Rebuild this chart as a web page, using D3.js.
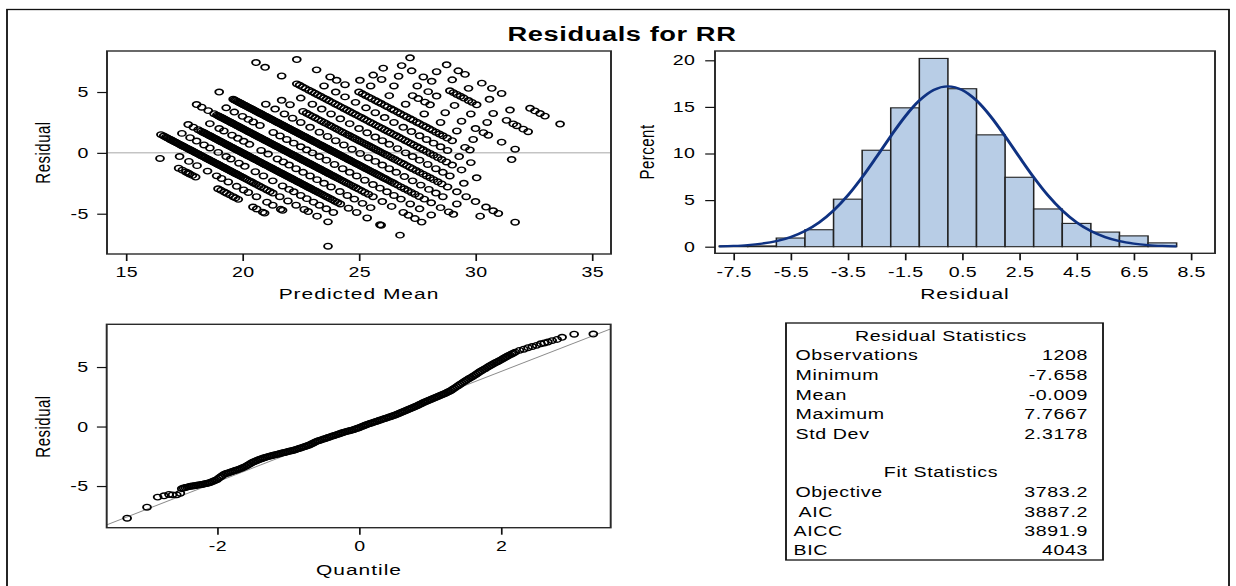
<!DOCTYPE html>
<html>
<head>
<meta charset="utf-8">
<script src="https://cdn.jsdelivr.net/npm/d3@7/dist/d3.min.js"></script>
<style>
html,body{margin:0;padding:0;background:#fff;}
svg{display:block;}
</style>
</head>
<body>
<svg id="chart"></svg>
<script>
// ================= DATA =================
const titleText = "Residuals for RR";

// Residual vs predicted mean: points grouped by observed RR value (residual = observed - predicted)
const pred16 = [16.46,17.26,17.42,17.57,17.66,17.73,17.85,17.99,18.95,19.08,19.22,19.32,19.45,19.6,19.7,19.82,20.45,20.61,20.87,20.95,23.67];
const pred17 = [17.3,17.7,18.05,18.5,18.89,19.1,19.39,19.75,20.05,20.25,20.6,21.05,21.3,21.64,21.72];
const pred18 = [16.5,16.62,16.71,16.77,16.83,16.9,16.94,17.01,17.06,17.12,17.17,17.22,17.28,17.33,17.39,17.43,17.5,17.55,17.61,17.66,17.72,17.77,17.83,17.88,17.93,17.99,18.04,18.1,18.14,18.21,18.26,18.31,18.37,18.42,18.48,18.53,18.58,18.64,18.69,18.75,18.8,18.86,18.91,18.96,19.02,19.07,19.13,19.18,19.23,19.29,19.34,19.4,19.45,19.51,19.56,19.61,19.67,19.72,19.78,19.83,19.89,19.95,20.03,20.12,20.2,20.3,20.38,20.47,20.58,20.7,20.8,20.92,21.05,21.18,21.3,21.6,21.95,22.3,22.65,22.82,23.2,23.67];
const pred19 = [17.4,17.75,18.03,18.35,18.6,18.96,19.3,19.5,19.85,20.1,20.55,20.9,21.3,21.72,22.0,22.2,22.5,22.76,23.05,23.3,23.6,23.9];
const pred20 = [17.67,17.89,18.1,18.22,18.3,18.35,18.41,18.46,18.52,18.57,18.62,18.68,18.73,18.79,18.84,18.89,18.95,19.0,19.06,19.11,19.16,19.22,19.27,19.33,19.38,19.43,19.49,19.54,19.6,19.65,19.7,19.76,19.81,19.87,19.92,19.97,20.03,20.08,20.14,20.19,20.24,20.3,20.35,20.41,20.46,20.51,20.57,20.62,20.68,20.73,20.78,20.84,20.89,20.95,21.0,21.05,21.11,21.16,21.22,21.27,21.32,21.38,21.43,21.49,21.54,21.59,21.65,21.7,21.76,21.81,21.86,21.92,21.97,22.03,22.08,22.13,22.19,22.24,22.3,22.35,22.4,22.46,22.51,22.57,22.62,22.67,22.73,22.78,22.84,22.89,22.95,23.02,23.09,23.16,23.24,23.31,23.39,23.47,23.56,23.65,23.75,23.86,23.97,24.08,24.2,24.55,24.9,25.35,25.9,25.95,26.76];
const pred21 = [18.6,19.0,19.2,19.55,19.8,20.05,20.3,20.8,21.1,21.5,21.75,22.0,22.3,22.6,22.9,23.2,23.5,23.8,24.18,24.5,24.8,25.15,25.5];
const pred22 = [18.03,18.25,18.53,18.78,18.9,18.96,19.01,19.07,19.12,19.18,19.23,19.28,19.34,19.39,19.45,19.5,19.55,19.61,19.66,19.72,19.77,19.82,19.88,19.93,19.99,20.04,20.09,20.15,20.2,20.26,20.31,20.36,20.42,20.47,20.53,20.58,20.63,20.69,20.74,20.8,20.85,20.9,20.96,21.01,21.07,21.12,21.17,21.23,21.28,21.34,21.39,21.44,21.5,21.55,21.61,21.66,21.71,21.77,21.82,21.88,21.93,21.98,22.04,22.09,22.15,22.2,22.25,22.31,22.36,22.42,22.47,22.52,22.58,22.63,22.69,22.74,22.79,22.85,22.9,22.96,23.01,23.06,23.12,23.17,23.23,23.28,23.33,23.39,23.44,23.5,23.55,23.6,23.66,23.71,23.77,23.83,23.9,23.97,24.05,24.12,24.2,24.28,24.36,24.45,24.55,24.65,24.76,24.87,24.98,25.12,25.25,25.4,25.6,26.0,26.4,26.9,27.12,27.4,27.69];
const pred23 = [19.3,19.65,20.0,20.25,20.46,20.75,21.32,21.61,21.9,22.2,22.5,22.75,23.0,23.3,23.6,23.95,24.3,24.6,24.9,25.25,25.6,25.9,26.2,26.5,26.8,27.2,27.6,28.1];
const pred24 = [19.0,19.6,19.66,19.71,19.77,19.82,19.88,19.93,19.98,20.04,20.09,20.15,20.2,20.25,20.31,20.36,20.42,20.47,20.52,20.58,20.63,20.69,20.74,20.79,20.85,20.9,20.96,21.01,21.06,21.12,21.17,21.23,21.28,21.33,21.39,21.44,21.5,21.55,21.6,21.66,21.71,21.77,21.82,21.87,21.93,21.98,22.04,22.09,22.14,22.2,22.25,22.31,22.36,22.41,22.47,22.52,22.58,22.63,22.68,22.74,22.79,22.85,22.9,22.95,23.01,23.06,23.12,23.17,23.22,23.28,23.33,23.39,23.44,23.49,23.55,23.6,23.66,23.71,23.76,23.82,23.87,23.93,23.98,24.03,24.09,24.14,24.2,24.25,24.3,24.36,24.41,24.47,24.52,24.57,24.63,24.68,24.74,24.8,24.87,24.94,25.01,25.08,25.15,25.22,25.3,25.38,25.46,25.54,25.62,25.7,25.78,25.86,25.95,26.04,26.13,26.22,26.32,26.42,26.52,26.65,26.8,26.95,27.1,27.25,27.4,27.58,27.8,28.1,28.5,28.85,29.05];
const pred25 = [21.0,21.4,21.8,22.15,22.5,22.9,23.3,23.65,24.0,24.35,24.7,25.05,25.4,25.7,26.0,26.3,26.6,26.95,27.3,27.65,28.0,28.3,28.6,29.2,30.2];
const pred26 = [21.68,22.04,22.6,22.75,22.88,23.0,23.12,23.25,23.38,23.5,23.6,23.72,23.82,23.95,24.05,24.15,24.28,24.4,24.5,24.6,24.72,24.82,24.92,25.02,25.12,25.22,25.32,25.42,25.52,25.62,25.72,25.82,25.92,26.02,26.12,26.22,26.35,26.45,26.55,26.68,26.8,26.92,27.05,27.18,27.3,27.45,27.6,27.75,27.9,28.05,28.2,28.38,28.55,28.8,29.2,29.6,30.0,30.45,30.76,30.98,31.7];
const pred27 = [22.5,23.0,23.4,23.8,24.2,24.6,25.0,25.35,25.7,26.0,26.3,26.65,27.0,27.3,27.6,27.95,28.3,28.6,28.9,29.5];
const pred28 = [20.58,20.97,21.68,22.33,22.45,22.58,22.7,22.85,22.98,23.1,23.22,23.35,23.48,23.6,23.72,23.85,23.98,24.1,24.22,24.35,24.48,24.6,24.72,24.85,24.98,25.1,25.22,25.35,25.48,25.6,25.72,25.85,25.98,26.1,26.22,26.35,26.48,26.6,26.72,26.85,26.98,27.1,27.22,27.35,27.5,27.62,27.75,27.9,28.05,28.2,28.38,28.55,28.75,29.0,29.4,30.05];
const pred29 = [23.5,24.0,24.4,24.85,25.3,25.7,26.1,26.5,26.9,27.25,27.6,27.9,28.2,28.5,28.8,29.3,29.8];
const pred30 = [22.33,23.18,23.76,24.04,24.4,25.0,25.15,25.28,25.42,25.55,25.7,25.82,25.95,26.1,26.22,26.38,26.5,26.65,26.78,26.92,27.05,27.2,27.32,27.48,27.6,27.75,27.88,28.02,28.15,28.3,28.45,28.6,28.78,29.0,29.55,29.76];
const pred31 = [25.04,25.5,26.3,27.0,27.8,28.5,29.2,29.9,31.55];
const pred32 = [25.61,25.97,26.5,27.3,27.54,27.83,28.05,28.7,29.4,30.0,30.34,30.55,31.12,31.7];
const pred33 = [26.04,26.7,27.5,27.97,28.33,29.1,29.8,30.5];
const pred34 = [26.83,27.26,27.76,28.12,28.9,29.05,29.2,29.35,29.5,29.7,29.85,30.05,30.76,31.33,31.62,31.77,32.05,32.26];
const pred35 = [27.19,28.33,29.0,29.7,30.6,31.48];
const pred36 = [28.76,29.26,29.55,30.27,30.7,31.12,32.34,32.55,32.77,32.98,33.63];
const observedLevels = [16,17,18,19,20,21,22,23,24,25,26,27,28,29,30,31,32,33,34,35,36];
const predByLevel = [pred16,pred17,pred18,pred19,pred20,pred21,pred22,pred23,pred24,pred25,pred26,pred27,pred28,pred29,pred30,pred31,pred32,pred33,pred34,pred35,pred36];

// Histogram of residuals (percent per bin of width 1)
const binMid = [-7.5,-6.5,-5.5,-4.5,-3.5,-2.5,-1.5,-0.5,0.5,1.5,2.5,3.5,4.5,5.5,6.5,7.5];
const binPercent = [0.08,0.08,0.93,1.82,5.1,10.35,14.9,20.2,16.95,12.0,7.45,4.05,2.5,1.57,1.16,0.41];
// Fitted normal density curve (percent)
const curveX = [-8,-7.5,-7,-6.5,-6,-5.5,-5,-4.5,-4,-3.5,-3,-2.5,-2,-1.5,-1,-0.5,0,0.5,1,1.5,2,2.5,3,3.5,4,4.5,5,5.5,6,6.5,7,7.5,8];
const curvePercent = [0.04,0.09,0.18,0.34,0.6,1.03,1.68,2.61,3.88,5.5,7.45,9.62,11.86,13.96,15.68,16.82,17.21,16.82,15.68,13.96,11.86,9.62,7.45,5.5,3.88,2.61,1.68,1.03,0.6,0.34,0.18,0.09,0.04];

// Normal quantile plot points [quantile, residual]
const qqPoints = [
 [-3.27,-7.70],[-2.99,-6.78],[-2.84,-5.93],[-2.75,-5.82],[-2.68,-5.71],[-2.63,-5.74],[-2.57,-5.74],[-2.52,-5.60],
 [-2.500,-5.22],[-2.475,-5.17],[-2.450,-5.13],[-2.425,-5.09],[-2.400,-5.05],[-2.375,-5.02],[-2.350,-5.00],[-2.325,-4.97],
 [-2.300,-4.95],[-2.275,-4.92],[-2.250,-4.90],[-2.225,-4.87],[-2.200,-4.85],[-2.175,-4.81],[-2.150,-4.78],[-2.125,-4.74],
 [-2.100,-4.70],[-2.075,-4.64],[-2.050,-4.58],[-2.025,-4.51],[-2.000,-4.45],[-1.975,-4.33],[-1.950,-4.22],[-1.925,-4.11],
 [-1.900,-4.00],[-1.875,-3.95],[-1.850,-3.90],[-1.825,-3.85],[-1.800,-3.80],[-1.775,-3.75],[-1.750,-3.70],[-1.725,-3.65],
 [-1.700,-3.60],[-1.675,-3.54],[-1.650,-3.48],[-1.625,-3.41],[-1.600,-3.35],[-1.575,-3.26],[-1.550,-3.18],[-1.525,-3.09],
 [-1.500,-3.00],[-1.475,-2.94],[-1.450,-2.88],[-1.425,-2.81],[-1.400,-2.75],[-1.375,-2.70],[-1.350,-2.65],[-1.325,-2.60],
 [-1.300,-2.55],[-1.275,-2.51],[-1.250,-2.48],[-1.225,-2.44],[-1.200,-2.40],[-1.175,-2.36],[-1.150,-2.33],[-1.125,-2.29],
 [-1.100,-2.25],[-1.075,-2.21],[-1.050,-2.18],[-1.025,-2.14],[-1.000,-2.10],[-0.975,-2.06],[-0.950,-2.03],[-0.925,-1.99],
 [-0.900,-1.95],[-0.875,-1.90],[-0.850,-1.85],[-0.825,-1.80],[-0.800,-1.75],[-0.775,-1.70],[-0.750,-1.65],[-0.725,-1.60],
 [-0.700,-1.55],[-0.675,-1.47],[-0.650,-1.40],[-0.625,-1.32],[-0.600,-1.25],[-0.575,-1.20],[-0.550,-1.15],[-0.525,-1.10],
 [-0.500,-1.05],[-0.475,-1.00],[-0.450,-0.95],[-0.425,-0.90],[-0.400,-0.85],[-0.375,-0.80],[-0.350,-0.75],[-0.325,-0.70],
 [-0.300,-0.65],[-0.275,-0.60],[-0.250,-0.55],[-0.225,-0.50],[-0.200,-0.45],[-0.175,-0.41],[-0.150,-0.38],[-0.125,-0.34],
 [-0.100,-0.30],[-0.075,-0.25],[-0.050,-0.20],[-0.025,-0.15],[0.000,-0.10],[0.025,-0.03],[0.050,0.03],[0.075,0.09],
 [0.100,0.15],[0.125,0.20],[0.150,0.25],[0.175,0.30],[0.200,0.35],[0.225,0.40],[0.250,0.45],[0.275,0.50],
 [0.300,0.55],[0.325,0.60],[0.350,0.65],[0.375,0.70],[0.400,0.75],[0.425,0.80],[0.450,0.85],[0.475,0.90],
 [0.500,0.95],[0.525,1.01],[0.550,1.08],[0.575,1.14],[0.600,1.20],[0.625,1.26],[0.650,1.33],[0.675,1.39],
 [0.700,1.45],[0.725,1.51],[0.750,1.58],[0.775,1.64],[0.800,1.70],[0.825,1.77],[0.850,1.85],[0.875,1.92],
 [0.900,2.00],[0.925,2.06],[0.950,2.13],[0.975,2.19],[1.000,2.25],[1.025,2.31],[1.050,2.38],[1.075,2.44],
 [1.100,2.50],[1.125,2.56],[1.150,2.63],[1.175,2.69],[1.200,2.75],[1.225,2.82],[1.250,2.90],[1.275,2.97],
 [1.300,3.05],[1.325,3.15],[1.350,3.25],[1.375,3.35],[1.400,3.45],[1.425,3.55],[1.450,3.65],[1.475,3.75],
 [1.500,3.85],[1.525,3.94],[1.550,4.03],[1.575,4.11],[1.600,4.20],[1.625,4.30],[1.650,4.40],[1.675,4.50],
 [1.700,4.60],[1.725,4.69],[1.750,4.78],[1.775,4.86],[1.800,4.95],[1.825,5.04],[1.850,5.13],[1.875,5.21],
 [1.900,5.30],[1.925,5.38],[1.950,5.45],[1.975,5.53],[2.000,5.60],[2.025,5.69],[2.050,5.78],[2.075,5.86],
 [2.100,5.95],[2.125,6.02],[2.150,6.10],[2.175,6.17],[2.200,6.25],
 [2.26,6.40],[2.32,6.50],[2.38,6.62],[2.44,6.72],[2.50,6.82],[2.56,6.95],[2.61,7.02],[2.66,7.10],[2.72,7.22],[2.79,7.32],
 [2.86,7.50],[3.03,7.76],[3.30,7.77]
];

// Statistics table
const residStatLabels = ["Observations","Minimum","Mean","Maximum","Std Dev"];
const residStatValues = ["1208","-7.658","-0.009","7.7667","2.3178"];
const fitStatLabels = ["Objective","AIC","AICC","BIC"];
const fitStatValues = ["3783.2","3887.2","3891.9","4043"];
const residMean = -0.009, residStd = 2.3178;

// Tick values
const predTicks = [15,20,25,30,35];
const residTicks = [-5,0,5];
const histXTicks = [-7.5,-5.5,-3.5,-1.5,0.5,2.5,4.5,6.5,8.5];
const histYTicks = [0,5,10,15,20];
const qqXTicks = [-2,0,2];

// ================= LAYOUT =================
const W = 1236, H = 586, SX = 1.4;          // picture is horizontally stretched
const W0 = W / SX;
const X = v => v / SX;                       // reference pixel x -> inner units
const FONT = '"Liberation Sans", Arial, Helvetica, sans-serif';
const frameColor = '#2a2a2a';
const markR = 2.8, markW = 1.35;

const svg = d3.select('#chart')
  .attr('width', W).attr('height', H)
  .attr('viewBox', `0 0 ${W0} ${H}`)
  .attr('preserveAspectRatio', 'none')
  .style('font-family', FONT);

svg.append('rect').attr('x',0).attr('y',0).attr('width',W0).attr('height',H).attr('fill','#fff');

// outer border
svg.append('rect').attr('x', X(7)).attr('y', 9.5).attr('width', X(1229) - X(7)).attr('height', 600)
  .attr('fill','none').attr('stroke','#111').attr('stroke-width',1.3);

svg.append('text').attr('x', X(622)).attr('y', 41).attr('text-anchor','middle')
  .attr('font-size', 19.5).attr('font-weight','bold').attr('letter-spacing', 0.4)
  .attr('fill','#000').text(titleText);

function styleAxis(g) {
  g.select('.domain').remove();
  g.attr('font-family', FONT).attr('font-size', 14);
  g.selectAll('.tick line').attr('stroke', '#111').attr('stroke-width', 1.2);
  g.selectAll('.tick text').attr('fill', '#000').attr('letter-spacing', 0.3);
}
function frame(p) {
  svg.append('rect').attr('x', p.l).attr('y', p.t).attr('width', p.r - p.l).attr('height', p.b - p.t)
    .attr('fill','none').attr('stroke', frameColor).attr('stroke-width', 1.4);
}
function yLabel(txt, xRef, yc) {
  svg.append('text').attr('transform', `translate(${X(xRef)},${yc}) rotate(-90)`)
    .attr('text-anchor','middle').attr('dy','0.36em').attr('font-size',15).attr('letter-spacing',0.5)
    .attr('fill','#000').text(txt);
}
function xLabel(txt, xc, yBase) {
  svg.append('text').attr('x', X(xc)).attr('y', yBase).attr('text-anchor','middle')
    .attr('font-size',15).attr('letter-spacing',0.7).attr('fill','#000').text(txt);
}
const fmt = d => String(d);

// ---------- Panel 1: Residual vs Predicted Mean ----------
const p1 = {l: X(107), r: X(611), t: 51, b: 254};
const x1 = d3.scaleLinear().domain([14.185, 35.815]).range([p1.l, p1.r]);
const y1 = d3.scaleLinear().domain([-8.31, 8.37]).range([p1.b, p1.t]);
svg.append('line').attr('x1', p1.l).attr('x2', p1.r).attr('y1', y1(0)).attr('y2', y1(0))
  .attr('stroke','#8a8a8a').attr('stroke-width',0.9);
const scatterPts = [];
observedLevels.forEach((obs, i) => predByLevel[i].forEach(p => scatterPts.push({p, r: obs - p})));
svg.append('g').selectAll('circle').data(scatterPts).join('circle')
  .attr('cx', d => x1(d.p)).attr('cy', d => y1(d.r)).attr('r', markR)
  .attr('fill','none').attr('stroke','#000').attr('stroke-width',markW);
frame(p1);
svg.append('g').attr('transform', `translate(0,${p1.b})`)
  .call(d3.axisBottom(x1).tickValues(predTicks).tickFormat(fmt).tickSize(7).tickPadding(6)).call(styleAxis);
svg.append('g').attr('transform', `translate(${p1.l},0)`)
  .call(d3.axisLeft(y1).tickValues(residTicks).tickFormat(fmt).tickSize(7).tickPadding(6)).call(styleAxis);
yLabel('Residual', 42.5, 152.5);
xLabel('Predicted Mean', 359, 299);

// ---------- Panel 2: Histogram ----------
const p2 = {l: X(715), r: X(1215), t: 51, b: 253.3};
const x2 = d3.scaleLinear().domain([-8.147, 9.342]).range([p2.l, p2.r]);
const y2 = d3.scaleLinear().domain([-0.708, 20.998]).range([p2.b, p2.t]);
svg.append('g').selectAll('rect').data(binMid.map((m, i) => ({m, v: binPercent[i]}))).join('rect')
  .attr('x', d => x2(d.m - 0.5)).attr('width', d => x2(d.m + 0.5) - x2(d.m - 0.5))
  .attr('y', d => y2(d.v)).attr('height', d => y2(0) - y2(d.v))
  .attr('fill','#b8cde6').attr('stroke','#222').attr('stroke-width',1.1);
const curveLine = d3.line().x(d => x2(d[0])).y(d => y2(d[1])).curve(d3.curveMonotoneX);
svg.append('path').attr('d', curveLine(curveX.map((x, i) => [x, curvePercent[i]])))
  .attr('fill','none').attr('stroke','#0f3282').attr('stroke-width',2.3);
frame(p2);
svg.append('g').attr('transform', `translate(0,${p2.b})`)
  .call(d3.axisBottom(x2).tickValues(histXTicks).tickFormat(fmt).tickSize(7).tickPadding(7)).call(styleAxis);
svg.append('g').attr('transform', `translate(${p2.l},0)`)
  .call(d3.axisLeft(y2).tickValues(histYTicks).tickFormat(fmt).tickSize(7).tickPadding(7)).call(styleAxis);
yLabel('Percent', 646.5, 152);
xLabel('Residual', 965, 299);

// ---------- Panel 3: Q-Q plot ----------
const p3 = {l: X(106.7), r: X(610.7), t: 324.3, b: 527.7};
const x3 = d3.scaleLinear().domain([-3.558, 3.545]).range([p3.l, p3.r]);
const y3 = d3.scaleLinear().domain([-8.50, 8.59]).range([p3.b, p3.t]);
const qd = x3.domain();
svg.append('line').attr('x1', x3(qd[0])).attr('x2', x3(qd[1]))
  .attr('y1', y3(residMean + residStd * qd[0])).attr('y2', y3(residMean + residStd * qd[1]))
  .attr('stroke','#8a8a8a').attr('stroke-width',0.9);
svg.append('g').selectAll('circle').data(qqPoints).join('circle')
  .attr('cx', d => x3(d[0])).attr('cy', d => y3(d[1])).attr('r', markR)
  .attr('fill','none').attr('stroke','#000').attr('stroke-width',markW);
frame(p3);
svg.append('g').attr('transform', `translate(0,${p3.b})`)
  .call(d3.axisBottom(x3).tickValues(qqXTicks).tickFormat(fmt).tickSize(7).tickPadding(6)).call(styleAxis);
svg.append('g').attr('transform', `translate(${p3.l},0)`)
  .call(d3.axisLeft(y3).tickValues(residTicks).tickFormat(fmt).tickSize(7).tickPadding(6)).call(styleAxis);
yLabel('Residual', 42.5, 426.5);
xLabel('Quantile', 359, 575);

// ---------- Panel 4: statistics table ----------
const tb = {l: X(786), r: X(1103), t: 323, b: 560};
svg.append('rect').attr('x', tb.l).attr('y', tb.t).attr('width', tb.r - tb.l).attr('height', tb.b - tb.t)
  .attr('fill','none').attr('stroke','#111').attr('stroke-width',1.3);
const tcx = X(941), lx = X(795.5), rx = X(1088);
function tText(t, x, y, anchor) {
  svg.append('text').attr('x', x).attr('y', y).attr('text-anchor', anchor)
    .attr('font-size', 14).attr('letter-spacing', 0.45).attr('fill','#000').text(t);
}
tText('Residual Statistics', tcx, 341, 'middle');
const residRowY = [360.5, 380.5, 400, 419, 439];
residStatLabels.forEach((l, i) => { tText(l, lx, residRowY[i], 'start'); tText(residStatValues[i], rx, residRowY[i], 'end'); });
tText('Fit Statistics', tcx, 477, 'middle');
const fitRowY = [497, 517, 536.5, 555.5];
const fitLabelDx = [0, 3, -2, -2];
fitStatLabels.forEach((l, i) => { tText(l, lx + X(fitLabelDx[i]), fitRowY[i], 'start'); tText(fitStatValues[i], rx, fitRowY[i], 'end'); });
</script>
</body>
</html>
